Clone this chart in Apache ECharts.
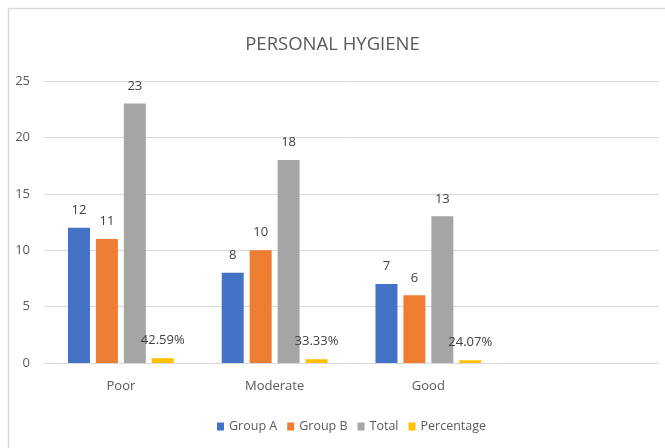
<!DOCTYPE html>
<html>
<head>
<meta charset="utf-8">
<style>
  html, body { margin: 0; padding: 0; background: #ffffff; }
  #chart { width: 665px; height: 448px; }
</style>
<script src="https://cdn.jsdelivr.net/npm/echarts@6/dist/echarts.min.js"></script>
</head>
<body>
<div id="chart"></div>
<script>
// Personal hygiene ratings by group
const categories = ['Poor', 'Moderate', 'Good', ''];
const groupA = [12, 8, 7];
const groupB = [11, 10, 6];
const total = [23, 18, 13];
const percentage = [0.4259, 0.3333, 0.2407];
const yTicks = [0, 5, 10, 15, 20, 25];

const FONT = '"Open Sans", "Noto Sans", sans-serif';
const labelStyle = {
  show: true,
  position: 'top',
  distance: 11,
  color: '#404040',
  fontSize: 13,
  fontFamily: FONT
};

function barSeries(name, data, color, formatter) {
  return {
    name: name,
    type: 'bar',
    data: data,
    barWidth: 22,
    barGap: '27%',
    itemStyle: { color: color },
    label: Object.assign({}, labelStyle, formatter ? { formatter: formatter } : {}),
    emphasis: { disabled: true }
  };
}

const chart = echarts.init(document.getElementById('chart'), null, { renderer: 'canvas' });
chart.setOption({
  animation: false,
  backgroundColor: '#ffffff',
  title: {
    text: 'PERSONAL HYGIENE',
    left: 'center',
    top: 30,
    textStyle: { color: '#595959', fontSize: 18.5, fontWeight: 'normal', fontFamily: FONT }
  },
  legend: {
    bottom: 10,
    left: 212,
    itemWidth: 7,
    itemHeight: 8,
    itemGap: 10,
    icon: 'rect',
    textStyle: { color: '#595959', fontSize: 12.5, fontFamily: FONT },
    data: ['Group A', 'Group B', 'Total', 'Percentage']
  },
  grid: { left: 44, right: 6, top: 81, bottom: 85, containLabel: false },
  xAxis: {
    type: 'category',
    data: categories,
    axisTick: { show: false },
    axisLine: { lineStyle: { color: '#d9d9d9' } },
    axisLabel: { color: '#595959', fontSize: 13, fontFamily: FONT, margin: 17 }
  },
  yAxis: {
    type: 'value',
    min: yTicks[0],
    max: yTicks[yTicks.length - 1],
    interval: yTicks[1] - yTicks[0],
    axisLine: { show: false },
    axisTick: { show: false },
    splitLine: { lineStyle: { color: '#d9d9d9' } },
    axisLabel: { color: '#595959', fontSize: 13, fontFamily: FONT, margin: 14 }
  },
  graphic: [
    { type: 'line', shape: { x1: 8, y1: 8.5, x2: 665, y2: 8.5 }, style: { stroke: '#d9d9d9', lineWidth: 1.5 } },
    { type: 'line', shape: { x1: 8.5, y1: 8, x2: 8.5, y2: 448 }, style: { stroke: '#d9d9d9', lineWidth: 1.5 } }
  ],
  series: [
    barSeries('Group A', groupA, '#4472c4'),
    barSeries('Group B', groupB, '#ed7d31'),
    barSeries('Total', total, '#a5a5a5'),
    barSeries('Percentage', percentage, '#ffc000', p => (p.value * 100).toFixed(2) + '%')
  ]
});
</script>
</body>
</html>
